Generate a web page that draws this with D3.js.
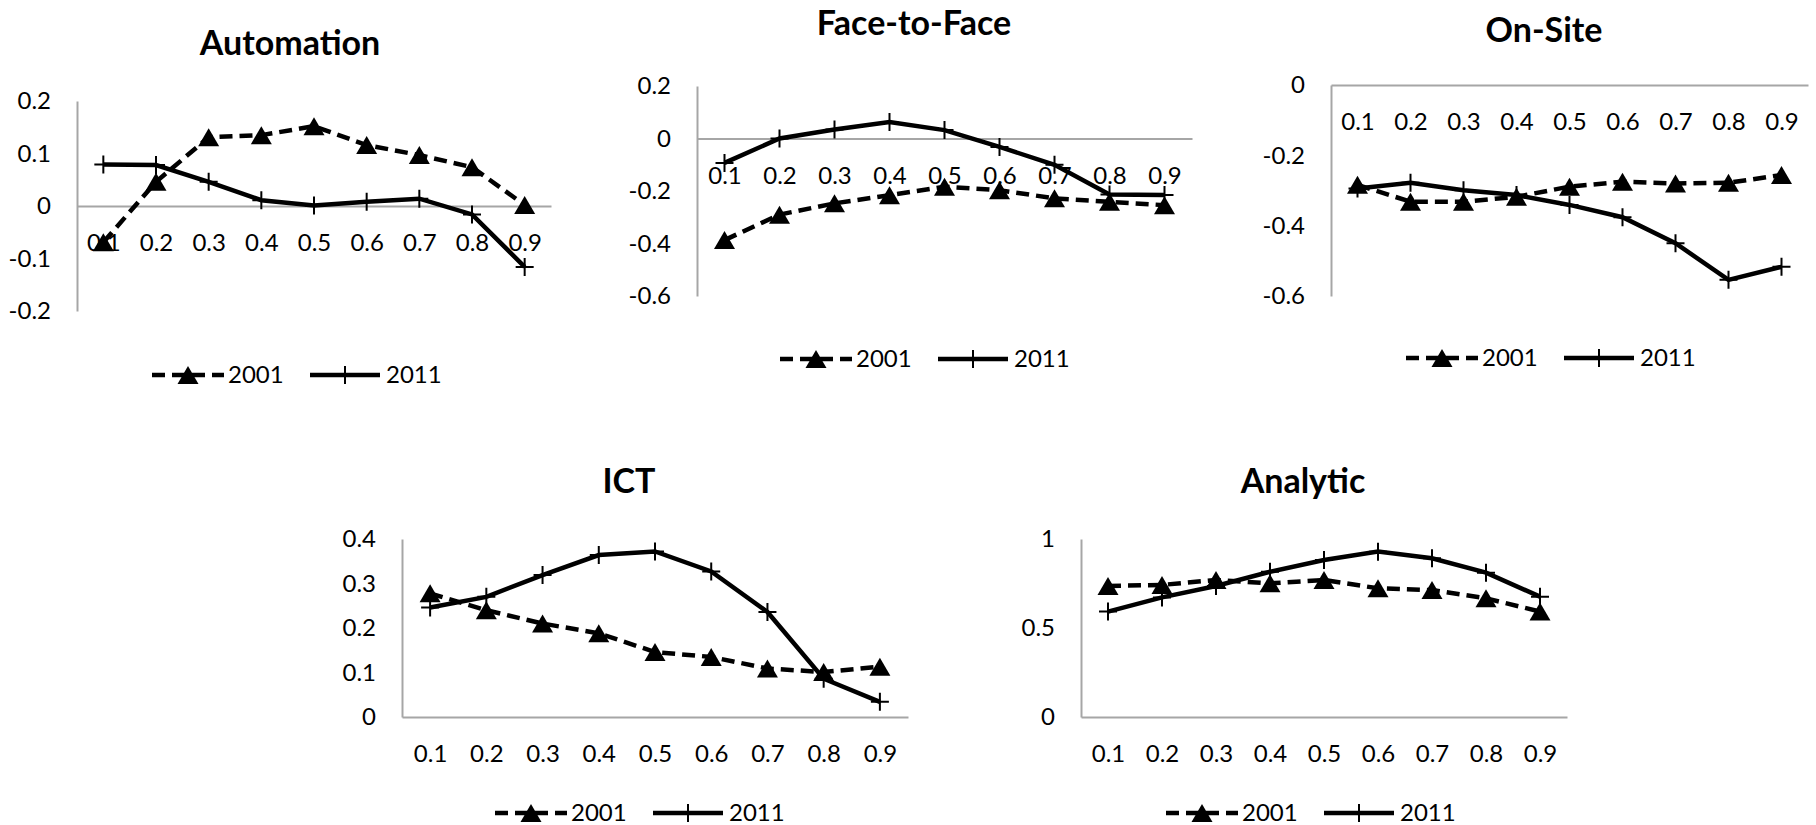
<!DOCTYPE html>
<html>
<head>
<meta charset="utf-8">
<script src="https://cdn.jsdelivr.net/npm/d3@7"></script>
<style>
  body { margin: 0; background: #fff; }
  svg text { font-family: Lato, "Open Sans", sans-serif; fill: #000; }
</style>
</head>
<body>
<div id="chart"></div>
<script>
// deciles on the x axis
const categories = ['0.1', '0.2', '0.3', '0.4', '0.5', '0.6', '0.7', '0.8', '0.9'];
const seriesNames = ['2001', '2011'];

// values
const automation2001 = [-0.069, 0.046, 0.131, 0.135, 0.152, 0.116, 0.097, 0.074, 0.002];
const automation2011 = [0.079, 0.078, 0.046, 0.011, 0.001, 0.008, 0.014, -0.016, -0.116];

const faceToFace2001 = [-0.387, -0.29, -0.247, -0.216, -0.184, -0.197, -0.228, -0.241, -0.254];
const faceToFace2011 = [-0.093, 0.0, 0.034, 0.063, 0.032, -0.032, -0.1, -0.213, -0.215];

const onSite2001 = [-0.284, -0.332, -0.332, -0.318, -0.289, -0.275, -0.28, -0.278, -0.256];
const onSite2011 = [-0.294, -0.278, -0.299, -0.313, -0.341, -0.376, -0.45, -0.554, -0.517];

const ict2001 = [0.278, 0.24, 0.21, 0.188, 0.146, 0.135, 0.109, 0.101, 0.113];
const ict2011 = [0.246, 0.27, 0.319, 0.364, 0.372, 0.327, 0.236, 0.086, 0.034];

const analytic2001 = [0.736, 0.742, 0.77, 0.751, 0.77, 0.723, 0.713, 0.667, 0.592];
const analytic2011 = [0.592, 0.672, 0.736, 0.816, 0.882, 0.929, 0.892, 0.811, 0.676];

// y tick values per panel
const automationTicks = [-0.2, -0.1, 0, 0.1, 0.2];
const faceToFaceTicks = [-0.6, -0.4, -0.2, 0, 0.2];
const onSiteTicks = [-0.6, -0.4, -0.2, 0];
const ictTicks = [0, 0.1, 0.2, 0.3, 0.4];
const analyticTicks = [0, 0.5, 1];

// panel layout (pixels)
const panels = [
  { title: 'Automation', a: automation2001, b: automation2011, ticks: automationTicks,
    left: 77, right: 551, top: 101, bottom: 311, titleX: 290, titleY: 55, legendX: 152, legendY: 375 },
  { title: 'Face-to-Face', a: faceToFace2001, b: faceToFace2011, ticks: faceToFaceTicks,
    left: 697, right: 1192, top: 86, bottom: 296, titleX: 914, titleY: 35, legendX: 780, legendY: 359 },
  { title: 'On-Site', a: onSite2001, b: onSite2011, ticks: onSiteTicks,
    left: 1331, right: 1808, top: 85, bottom: 296, titleX: 1544, titleY: 42, legendX: 1406, legendY: 358 },
  { title: 'ICT', a: ict2001, b: ict2011, ticks: ictTicks,
    left: 402, right: 908, top: 539, bottom: 717, titleX: 629, titleY: 493, legendX: 495, legendY: 813 },
  { title: 'Analytic', a: analytic2001, b: analytic2011, ticks: analyticTicks,
    left: 1081, right: 1567, top: 539, bottom: 717, titleX: 1303, titleY: 493, legendX: 1166, legendY: 813 }
];

const width = 1816, height = 825;
const axisColor = '#a6a6a6';
const dash = '13,7';
const labelSize = '24px';

const svg = d3.select('#chart').append('svg')
  .attr('width', width)
  .attr('height', height);

// triangle centred on its bounding box
function triangle(w, h) {
  return `M0,${-h / 2}L${w / 2},${h / 2}L${-w / 2},${h / 2}Z`;
}
const crossPath = 'M-9,0H9M0,-9V9';

function drawPanel(p) {
  const x = d3.scalePoint().domain(categories).range([p.left, p.right]).padding(0.5);
  const y = d3.scaleLinear().domain(d3.extent(p.ticks)).range([p.bottom, p.top]);
  const g = svg.append('g');

  g.append('text')
    .attr('x', p.titleX)
    .attr('y', p.titleY)
    .attr('text-anchor', 'middle')
    .style('font-weight', 'bold')
    .style('font-size', '34px')
    .text(p.title);

  const yAxis = g.append('g')
    .attr('transform', `translate(${p.left},0)`)
    .call(d3.axisLeft(y).tickValues(p.ticks).tickSize(0).tickPadding(26).tickFormat(d => String(d)));

  const xAxis = g.append('g')
    .attr('transform', `translate(0,${y(0)})`)
    .call(d3.axisBottom(x).tickSize(0).tickPadding(28));

  [yAxis, xAxis].forEach(ax => {
    ax.attr('font-family', null).attr('font-size', null);
    ax.select('.domain').attr('stroke', axisColor).attr('stroke-width', 2);
    ax.selectAll('text').style('font-size', labelSize);
  });

  const line = d3.line()
    .x((d, i) => x(categories[i]))
    .y(d => y(d));

  // 2001: dashed with triangles
  g.append('path')
    .datum(p.a)
    .attr('fill', 'none')
    .attr('stroke', '#000')
    .attr('stroke-width', 4.5)
    .attr('stroke-dasharray', dash)
    .attr('d', line);

  g.selectAll('.tri')
    .data(p.a)
    .join('path')
    .attr('class', 'tri')
    .attr('transform', (d, i) => `translate(${x(categories[i])},${y(d)})`)
    .attr('d', triangle(21, 18))
    .attr('fill', '#000');

  // 2011: solid with crosses
  g.append('path')
    .datum(p.b)
    .attr('fill', 'none')
    .attr('stroke', '#000')
    .attr('stroke-width', 4.5)
    .attr('d', line);

  g.selectAll('.cross')
    .data(p.b)
    .join('path')
    .attr('class', 'cross')
    .attr('transform', (d, i) => `translate(${x(categories[i])},${y(d)})`)
    .attr('d', crossPath)
    .attr('stroke', '#000')
    .attr('stroke-width', 2);

  // legend
  const lg = g.append('g').attr('transform', `translate(${p.legendX},${p.legendY})`);
  lg.append('line')
    .attr('x1', 0).attr('x2', 72)
    .attr('stroke', '#000').attr('stroke-width', 4.5)
    .attr('stroke-dasharray', dash);
  lg.append('path')
    .attr('transform', 'translate(36,0)')
    .attr('d', triangle(21, 18))
    .attr('fill', '#000');
  lg.append('text')
    .attr('x', 76).attr('dy', '0.35em')
    .style('font-size', labelSize)
    .text(seriesNames[0]);

  lg.append('line')
    .attr('x1', 158).attr('x2', 228)
    .attr('stroke', '#000').attr('stroke-width', 4.5);
  lg.append('path')
    .attr('transform', 'translate(193,0)')
    .attr('d', crossPath)
    .attr('stroke', '#000').attr('stroke-width', 2);
  lg.append('text')
    .attr('x', 234).attr('dy', '0.35em')
    .style('font-size', labelSize)
    .text(seriesNames[1]);
}

panels.forEach(drawPanel);
</script>
</body>
</html>
